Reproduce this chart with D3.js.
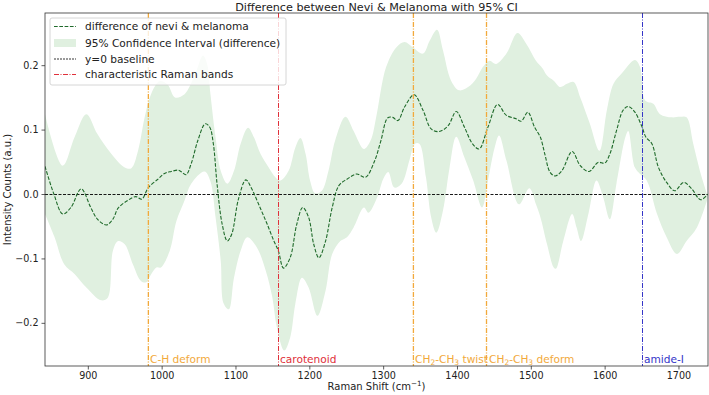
<!DOCTYPE html>
<html>
<head>
<meta charset="utf-8">
<script src="https://cdn.jsdelivr.net/npm/d3@7"></script>
<style>
  body { margin: 0; background: #fff; }
  svg { font-family: "DejaVu Sans", sans-serif; }
</style>
</head>
<body>
<div id="chart"></div>
<script>
// Diferencia media (nevi - melanoma)
const meanX = [842, 854, 866, 877, 891, 904, 913, 925, 934, 941, 954, 965, 973, 982, 995, 1004, 1013, 1022, 1026, 1033, 1040, 1049, 1059, 1065, 1070, 1075, 1082, 1089, 1095, 1104, 1114, 1122, 1134, 1143, 1152, 1158, 1165, 1174, 1183, 1191, 1199, 1206, 1213, 1222, 1231, 1240, 1251, 1264, 1276, 1288, 1297, 1306, 1313, 1320, 1329, 1342, 1354, 1365, 1376, 1388, 1399, 1410, 1421, 1430, 1442, 1455, 1467, 1480, 1487, 1496, 1505, 1513, 1519, 1526, 1533, 1542, 1556, 1567, 1579, 1591, 1600, 1607, 1616, 1625, 1632, 1641, 1650, 1656, 1664, 1673, 1684, 1695, 1707, 1718, 1730, 1740];
const meanY = [0.043, 0.0, -0.031, -0.021, 0.008, -0.021, -0.039, -0.048, -0.039, -0.022, -0.010, -0.004, -0.008, 0.010, 0.023, 0.032, 0.035, 0.037, 0.035, 0.030, 0.047, 0.083, 0.109, 0.104, 0.078, 0.016, -0.047, -0.073, -0.062, -0.008, 0.022, 0.008, -0.023, -0.047, -0.073, -0.088, -0.115, -0.099, -0.047, -0.021, -0.036, -0.078, -0.099, -0.073, -0.021, 0.013, 0.023, 0.031, 0.026, 0.050, 0.083, 0.118, 0.119, 0.114, 0.135, 0.154, 0.130, 0.101, 0.097, 0.106, 0.128, 0.104, 0.078, 0.070, 0.104, 0.139, 0.122, 0.117, 0.113, 0.127, 0.104, 0.088, 0.062, 0.034, 0.028, 0.036, 0.066, 0.044, 0.035, 0.049, 0.048, 0.062, 0.098, 0.130, 0.136, 0.127, 0.106, 0.088, 0.078, 0.041, 0.018, 0.005, 0.018, 0.008, -0.009, 0.0];

// Límite superior del IC 95%
const upperX = [842, 866, 882, 898, 913, 932, 950, 959, 968, 977, 986, 997, 1008, 1018, 1031, 1045, 1056, 1062, 1066, 1073, 1080, 1089, 1098, 1107, 1117, 1125, 1134, 1145, 1154, 1161, 1172, 1181, 1188, 1195, 1201, 1208, 1217, 1226, 1235, 1249, 1260, 1274, 1283, 1291, 1304, 1318, 1329, 1340, 1354, 1363, 1373, 1381, 1392, 1403, 1415, 1426, 1435, 1444, 1453, 1467, 1482, 1494, 1507, 1516, 1522, 1531, 1540, 1549, 1558, 1567, 1580, 1593, 1603, 1612, 1623, 1641, 1648, 1655, 1666, 1675, 1691, 1702, 1711, 1720, 1729, 1740];
const upperY = [0.124, 0.044, 0.088, 0.124, 0.093, 0.062, 0.041, 0.040, 0.067, 0.119, 0.156, 0.175, 0.170, 0.150, 0.155, 0.185, 0.215, 0.200, 0.156, 0.088, 0.036, 0.016, 0.036, 0.078, 0.103, 0.088, 0.062, 0.041, 0.026, 0.021, 0.036, 0.072, 0.087, 0.062, 0.021, 0.001, 0.005, 0.036, 0.083, 0.120, 0.098, 0.070, 0.083, 0.122, 0.197, 0.228, 0.236, 0.228, 0.218, 0.238, 0.255, 0.223, 0.176, 0.161, 0.166, 0.179, 0.197, 0.207, 0.202, 0.218, 0.250, 0.233, 0.207, 0.195, 0.184, 0.176, 0.166, 0.171, 0.174, 0.150, 0.109, 0.067, 0.130, 0.171, 0.187, 0.208, 0.197, 0.145, 0.140, 0.124, 0.119, 0.120, 0.119, 0.078, 0.036, -0.005];

// Límite inferior del IC 95%
const lowerX = [842, 855, 868, 882, 898, 918, 927, 934, 941, 950, 961, 972, 979, 986, 993, 999, 1011, 1020, 1031, 1040, 1058, 1066, 1073, 1080, 1084, 1091, 1098, 1107, 1116, 1129, 1141, 1150, 1156, 1166, 1174, 1181, 1190, 1199, 1211, 1222, 1231, 1242, 1251, 1260, 1274, 1280, 1292, 1300, 1307, 1315, 1325, 1336, 1343, 1349, 1358, 1365, 1372, 1381, 1390, 1399, 1410, 1422, 1434, 1442, 1451, 1457, 1467, 1484, 1498, 1507, 1513, 1522, 1531, 1534, 1544, 1556, 1562, 1568, 1578, 1589, 1598, 1607, 1616, 1628, 1632, 1641, 1648, 1657, 1671, 1684, 1698, 1711, 1725, 1740];
const lowerY = [-0.031, -0.067, -0.109, -0.124, -0.145, -0.165, -0.161, -0.088, -0.073, -0.078, -0.109, -0.135, -0.137, -0.124, -0.114, -0.114, -0.088, -0.042, -0.010, 0.016, 0.035, 0.020, -0.036, -0.104, -0.170, -0.179, -0.130, -0.088, -0.067, -0.083, -0.119, -0.161, -0.207, -0.243, -0.223, -0.171, -0.130, -0.145, -0.189, -0.150, -0.093, -0.073, -0.067, -0.052, -0.021, -0.029, -0.005, 0.023, 0.034, 0.010, 0.016, 0.054, 0.078, 0.078, 0.026, -0.036, -0.060, -0.026, 0.041, 0.089, 0.057, 0.021, -0.021, 0.021, 0.072, 0.091, 0.052, -0.016, 0.009, -0.016, -0.036, -0.078, -0.114, -0.116, -0.073, -0.031, -0.052, -0.073, -0.031, 0.021, -0.005, -0.039, 0.016, 0.088, 0.098, 0.041, 0.031, 0.021, -0.031, -0.067, -0.093, -0.073, -0.052, -0.005];

// Bandas Raman características
const bandPos = [982, 1157, 1341, 1440, 1650];
const bandLabels = ["C-H deform", "carotenoid", "CH2-CH3 twist", "CH2-CH3 deform", "amide-I"];
const bandColors = ["#f2a93b", "#e0303a", "#f2a93b", "#f2a93b", "#3535c8"];

const xTicks = [900, 1000, 1100, 1200, 1300, 1400, 1500, 1600, 1700];
const yTicks = [-0.2, -0.1, 0.0, 0.1, 0.2];

const legendLabels = ["difference of nevi & melanoma", "95% Confidence Interval (difference)", "y=0 baseline", "characteristic Raman bands"];

// Configuración del gráfico
const W = 709, H = 395;
const margin = { top: 13, right: 1, bottom: 29, left: 45 };

const svg = d3.select("#chart").append("svg")
    .attr("width", W)
    .attr("height", H);

const x = d3.scaleLinear().domain([842, 1740]).range([margin.left, W - margin.right]);
const y = d3.scaleLinear().domain([-0.267, 0.281]).range([H - margin.bottom, margin.top]);

svg.append("defs").append("clipPath").attr("id", "clip")
    .append("rect")
    .attr("x", margin.left).attr("y", margin.top)
    .attr("width", W - margin.left - margin.right)
    .attr("height", H - margin.top - margin.bottom);

const plot = svg.append("g").attr("clip-path", "url(#clip)");

// Banda de confianza
const upper = upperX.map((v, i) => [v, upperY[i]]);
const lower = lowerX.map((v, i) => [v, lowerY[i]]).reverse();
const line = d3.line().x(d => x(d[0])).y(d => y(d[1])).curve(d3.curveCatmullRom.alpha(0.5));

plot.append("path")
    .attr("d", line(upper) + "L" + line(lower).slice(1) + "Z")
    .attr("fill", "rgb(224,240,224)");

// Línea base y=0
plot.append("line")
    .attr("x1", x(842)).attr("x2", x(1740))
    .attr("y1", Math.round(y(0)) + 0.5).attr("y2", Math.round(y(0)) + 0.5)
    .attr("stroke", "#000")
    .attr("stroke-width", 0.9)
    .attr("stroke-dasharray", "3,1.5");

// Diferencia media
plot.append("path")
    .attr("d", line(meanX.map((v, i) => [v, meanY[i]])))
    .attr("fill", "none")
    .attr("stroke", "#1f6a2a")
    .attr("stroke-width", 1.1)
    .attr("stroke-dasharray", "3.7,1.6");

// Etiquetas de bandas (con fondo blanco)
const labelY = H - margin.bottom - 3;
bandPos.forEach((p, i) => {
    const g = svg.append("g");
    const t = g.append("text")
        .attr("x", Math.round(x(p)) + 2)
        .attr("y", labelY)
        .attr("font-size", "10.6px")
        .attr("fill", bandColors[i]);
    const lab = bandLabels[i];
    if (lab.startsWith("CH2")) {
        const rest = lab.slice(7);
        t.append("tspan").text("CH");
        t.append("tspan").attr("font-size", "7.5px").attr("dy", 2).text("2");
        t.append("tspan").attr("dy", -2).text("-CH");
        t.append("tspan").attr("font-size", "7.5px").attr("dy", 2).text("3");
        t.append("tspan").attr("dy", -2).text(rest);
    } else {
        t.text(lab);
    }
    const bb = t.node().getBBox();
    g.insert("rect", "text")
        .attr("x", bb.x).attr("y", bb.y)
        .attr("width", bb.width + 1).attr("height", bb.height)
        .attr("fill", "#fff").attr("opacity", 0.85);
});

// Líneas verticales de bandas (las naranjas un poco más gruesas para que se vea el color)
bandPos.forEach((p, i) => {
    const isOrange = bandColors[i] === "#f2a93b";
    const px = isOrange ? x(p) : Math.round(x(p)) + 0.5;
    svg.append("line")
        .attr("x1", px).attr("x2", px)
        .attr("y1", margin.top).attr("y2", H - margin.bottom)
        .attr("stroke", bandColors[i])
        .attr("stroke-width", isOrange ? 1.3 : 1)
        .attr("stroke-dasharray", "5,1.5,1,1.5");
});

// Ejes
const fmtY = d => d3.format(".1f")(d).replace("-", "\u2212");
const xAxis = svg.append("g")
    .attr("transform", `translate(0,${H - margin.bottom})`)
    .call(d3.axisBottom(x).tickValues(xTicks).tickSize(3.5).tickPadding(3).tickFormat(d3.format("d")));
const yAxis = svg.append("g")
    .attr("transform", `translate(${margin.left},0)`)
    .call(d3.axisLeft(y).tickValues(yTicks).tickSize(3.5).tickPadding(3).tickFormat(fmtY));
[xAxis, yAxis].forEach(a => {
    a.select(".domain").remove();
    a.selectAll("text").attr("font-size", "9.6px").attr("fill", "#222").attr("font-family", "DejaVu Sans");
    a.selectAll("line").attr("stroke", "#333").attr("stroke-width", 0.8);
});

// Marco
svg.append("rect")
    .attr("x", margin.left).attr("y", margin.top)
    .attr("width", W - margin.left - margin.right)
    .attr("height", H - margin.top - margin.bottom)
    .attr("fill", "none")
    .attr("stroke", "#333")
    .attr("stroke-width", 0.8);

// Títulos
svg.append("text")
    .attr("x", (margin.left + W - margin.right) / 2)
    .attr("y", 10.5)
    .attr("text-anchor", "middle")
    .attr("font-size", "11.2px")
    .attr("fill", "#222")
    .text("Difference between Nevi & Melanoma with 95% CI");

const xl = svg.append("text")
    .attr("x", (margin.left + W - margin.right) / 2)
    .attr("y", H - 5)
    .attr("text-anchor", "middle")
    .attr("font-size", "10px")
    .attr("fill", "#222");
xl.append("tspan").text("Raman Shift (cm");
xl.append("tspan").attr("font-size", "7.2px").attr("dy", -4).text("\u22121");
xl.append("tspan").attr("dy", 4).text(")");

svg.append("text")
    .attr("transform", `translate(11,${(margin.top + H - margin.bottom) / 2}) rotate(-90)`)
    .attr("text-anchor", "middle")
    .attr("font-size", "10px")
    .attr("fill", "#222")
    .text("Intensity Counts (a.u.)");

// Leyenda
const lg = svg.append("g");
lg.append("rect")
    .attr("x", 50).attr("y", 18)
    .attr("width", 236).attr("height", 67)
    .attr("rx", 2)
    .attr("fill", "#fff").attr("fill-opacity", 0.8)
    .attr("stroke", "#ccc").attr("stroke-width", 0.8);
const rowY = [26.5, 43, 59, 74.5];
lg.append("line").attr("x1", 54).attr("x2", 76).attr("y1", rowY[0]).attr("y2", rowY[0])
    .attr("stroke", "#1f6a2a").attr("stroke-width", 1.1).attr("stroke-dasharray", "3.7,1.6");
lg.append("rect").attr("x", 54).attr("y", rowY[1] - 4).attr("width", 22).attr("height", 8)
    .attr("fill", "rgb(224,240,224)");
lg.append("line").attr("x1", 54).attr("x2", 76).attr("y1", rowY[2]).attr("y2", rowY[2])
    .attr("stroke", "#000").attr("stroke-width", 0.8).attr("stroke-dasharray", "2,1");
lg.append("line").attr("x1", 54).attr("x2", 76).attr("y1", rowY[3]).attr("y2", rowY[3])
    .attr("stroke", "#e0303a").attr("stroke-width", 1).attr("stroke-dasharray", "5,1.5,1,1.5");
legendLabels.forEach((l, i) => {
    lg.append("text")
        .attr("x", 85).attr("y", rowY[i])
        .attr("dy", "0.35em")
        .attr("font-size", "10.6px")
        .attr("fill", "#222")
        .text(l);
});
</script>
</body>
</html>
